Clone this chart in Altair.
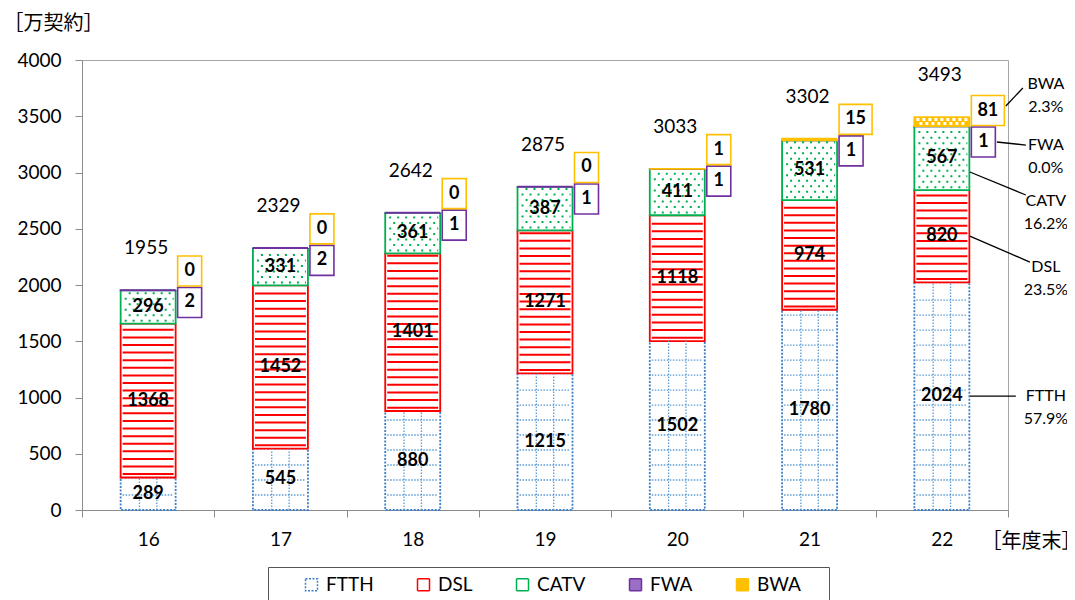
import altair as alt
import pandas as pd

# ---------------- data ----------------
years = ["16", "17", "18", "19", "20", "21", "22"]
series_names = ["FTTH", "DSL", "CATV", "FWA", "BWA"]
ftth = [289, 545, 880, 1215, 1502, 1780, 2024]
dsl = [1368, 1452, 1401, 1271, 1118, 974, 820]
catv = [296, 331, 361, 387, 411, 531, 567]
fwa = [2, 2, 1, 1, 1, 1, 1]
bwa = [0, 0, 0, 0, 1, 15, 81]
totals = [1955, 2329, 2642, 2875, 3033, 3302, 3493]
y_ticks = [0, 500, 1000, 1500, 2000, 2500, 3000, 3500, 4000]

# ---------------- style / layout ----------------
FONT = "Lato, 'Noto Sans CJK JP', sans-serif"
CJK = "'Noto Sans CJK JP', sans-serif"
GRAY = "#8c8c8c"
BLUE_LINE = "#3d7fc8"
BLUE_DOT = "#5b9bd5"
RED = "#ff0000"
GREEN = "#00b050"
PURPLE = "#7030a0"
ORANGE = "#ffc000"
stroke_colors = [BLUE_LINE, RED, GREEN, PURPLE, ORANGE]
fill_colors = ["#ffffff", "#ffffff", "#ffffff", "#9b6fc6", ORANGE]
dash_range = [[2, 1.5], [1, 0], [1, 0], [1, 0], [1, 0]]
BAR_W = 55
HALF_IN = 25.5  # inner half width for pattern lines
PAD_TAIL = " " * 4 + "\u200b"   # widens the last legend entry (legend frame)

values = {"FTTH": ftth, "DSL": dsl, "CATV": catv, "FWA": fwa, "BWA": bwa}

# stacked segments
rows = []
for i, yr in enumerate(years):
    acc = 0
    for k, s in enumerate(series_names):
        v = values[s][i]
        rows.append(dict(year=yr, series=s, value=v, start=acc, end=acc + v,
                         mid=acc + v / 2, order=k, label=str(v)))
        acc += v
seg = pd.DataFrame(rows)


def rng(s, i):
    r = seg[(seg.year == years[i]) & (seg.series == s)].iloc[0]
    return float(r.start), float(r.end)


# pattern decoration rows (derived from the segment extents)
ft_rows, dsl_rows, catv_rows, bwa_rows = [], [], [], []
for i, yr in enumerate(years):
    s0, e0 = rng("FTTH", i)
    y = s0 + 133.3
    while y < e0 - 40:
        ft_rows.append(dict(year=yr, y=y))
        y += 133.3
    s0, e0 = rng("DSL", i)
    y = s0 + 30
    while y < e0 - 15:
        dsl_rows.append(dict(year=yr, y=y))
        y += 67.5
    s0, e0 = rng("CATV", i)
    y = s0 + 25
    k = 0
    while y < e0 - 15:
        catv_rows.append(dict(year=yr, y=y, par=k % 2))
        y += 49
        k += 1
    s0, e0 = rng("BWA", i)
    if e0 - s0 >= 30:
        bwa_rows.append(dict(year=yr, y=s0 + (e0 - s0) * 0.72, par=0))
        bwa_rows.append(dict(year=yr, y=s0 + (e0 - s0) * 0.30, par=1))

ft_df = pd.DataFrame(ft_rows)
dsl_df = pd.DataFrame(dsl_rows)
catv_df = pd.DataFrame(catv_rows)
bwa_df = pd.DataFrame(bwa_rows)

# ---------------- encodings ----------------
X = alt.X("year:N",
          scale=alt.Scale(domain=years, paddingInner=0, paddingOuter=0),
          axis=alt.Axis(title="［年度末］", labelAngle=0, tickBand="extent", tickSize=7,
                        tickColor=GRAY, domainColor=GRAY, labelFontSize=19, labelFont=FONT,
                        labelPadding=13, labelColor="#000", titleFont=CJK, titleFontSize=20,
                        titleFontWeight="normal", titleX=899, titleY=31, titleAlign="left",
                        titleBaseline="middle", titleColor="#000", grid=False))


def Y(field):
    return alt.Y(f"{field}:Q", scale=alt.Scale(domain=[0, 4000], nice=False, zero=True),
                 axis=alt.Axis(values=y_ticks, format="d", grid=False, tickSize=7, tickColor=GRAY,
                               domainColor=GRAY, labelFontSize=19, labelFont=FONT,
                               labelPadding=14, labelColor="#000", title="［万契約］",
                               titleAngle=0, titleX=-79, titleY=-37, titleAlign="left",
                               titleBaseline="middle", titleFont=CJK, titleFontSize=20,
                               titleFontWeight="normal", titleColor="#000"))


legend = alt.Legend(title=" ", orient="none", legendX=186, legendY=507,
                    direction="horizontal", symbolType="square", symbolSize=144,
                    symbolStrokeWidth=1.5, labelFontSize=19, labelFont=FONT,
                    labelColor="#000", columnPadding=40, padding=8, strokeColor="#555",
                    titleOrient="left", titlePadding=26, titleFontSize=19, labelOffset=5,
                    labelExpr="datum.label == 'BWA' ? 'BWA" + PAD_TAIL + "' : datum.label")

bar_seg = seg[seg.value > 0]
bars = alt.Chart(bar_seg).mark_bar(width=BAR_W, strokeWidth=1.8).encode(
    x=X, y=Y("start"), y2=alt.Y2("end"),
    fill=alt.Fill("series:N", scale=alt.Scale(domain=series_names, range=fill_colors), legend=legend),
    stroke=alt.Stroke("series:N", scale=alt.Scale(domain=series_names, range=stroke_colors), legend=legend),
    strokeDash=alt.StrokeDash("series:N", scale=alt.Scale(domain=series_names, range=dash_range), legend=legend),
    order=alt.Order("order:Q"),
)

ftth_seg = seg[seg.series == "FTTH"]
layers = [bars]
for off in (-8.7, 8.7):
    layers.append(alt.Chart(ftth_seg).mark_rule(xOffset=off, strokeDash=[1.5, 1.5], color=BLUE_DOT,
                                                 strokeWidth=1.3).encode(
        x=X, y=Y("start"), y2=alt.Y2("end")))

layers.append(alt.Chart(ft_df).mark_rule(xOffset=-HALF_IN, x2Offset=HALF_IN, strokeDash=[1.5, 1.5],
                                         color=BLUE_DOT, strokeWidth=1.3).encode(
    x=X, x2=alt.X2("year"), y=Y("y")))

layers.append(alt.Chart(dsl_df).mark_rule(xOffset=-HALF_IN, x2Offset=HALF_IN, color=RED,
                                          strokeWidth=2).encode(
    x=X, x2=alt.X2("year"), y=Y("y")))

for par in (0, 1):
    sub = catv_df[catv_df.par == par]
    layers.append(alt.Chart(sub).mark_rule(xOffset=-HALF_IN + 2, x2Offset=HALF_IN, color=GREEN,
                                           strokeWidth=2, strokeDash=[2, 6],
                                           strokeDashOffset=4 * par).encode(
        x=X, x2=alt.X2("year"), y=Y("y")))

for par in (0, 1):
    sub = bwa_df[bwa_df.par == par]
    if len(sub):
        layers.append(alt.Chart(sub).mark_rule(xOffset=-HALF_IN, x2Offset=HALF_IN, color="#ffffff",
                                               strokeWidth=3, strokeDash=[3, 3],
                                               strokeDashOffset=3 * par).encode(
            x=X, x2=alt.X2("year"), y=Y("y")))

# segment value labels
lab = seg[seg.series.isin(["FTTH", "DSL", "CATV"])]
layers.append(alt.Chart(lab).mark_text(font=FONT, fontSize=18, fontWeight="bold", color="#000",
                                       baseline="middle").encode(
    x=X, y=Y("mid"), text="label:N"))

# totals
tot_df = pd.DataFrame({"year": years, "total": totals, "label": [str(t) for t in totals]})
layers.append(alt.Chart(tot_df).mark_text(font=FONT, fontSize=19, color="#000", dy=-42, dx=-2,
                                          baseline="middle").encode(
    x=X, y=Y("total"), text="label:N"))

# FWA / BWA boxed labels
box_rows = []
for i, yr in enumerate(years):
    shift = -112 if bwa[i] >= 50 else 0
    box_rows.append(dict(year=yr, series="FWA", label=str(fwa[i]), y=totals[i] - 110 + shift,
                         wide=len(str(fwa[i])) > 1))
    box_rows.append(dict(year=yr, series="BWA", label=str(bwa[i]), y=totals[i] + 170 + shift,
                         wide=len(str(bwa[i])) > 1))
box_df = pd.DataFrame(box_rows)
PATH_N = "M-0.8,-1H0.8V1H-0.8Z"
PATH_W = "M-1.1,-1H1.1V1H-1.1Z"
for s, col in (("FWA", PURPLE), ("BWA", ORANGE)):
    for wide in (False, True):
        sub = box_df[(box_df.series == s) & (box_df.wide == wide)]
        if not len(sub):
            continue
        off = 46 if wide else 41.5
        layers.append(alt.Chart(sub).mark_point(shape=PATH_W if wide else PATH_N, size=900, filled=True,
                                                fill="#ffffff", stroke=col, strokeWidth=1.6, opacity=1,
                                                xOffset=off).encode(x=X, y=Y("y")))
        layers.append(alt.Chart(sub).mark_text(font=FONT, fontSize=18, fontWeight="bold", color="#000",
                                               xOffset=off, baseline="middle").encode(
            x=X, y=Y("y"), text="label:N"))

# share annotations for the latest year
last = len(years) - 1
ann_y = {"BWA": 3787, "FWA": 3244, "CATV": 2747, "DSL": 2160, "FTTH": 1013}
ann_rows = []
for s in series_names:
    pct = values[s][last] / totals[last] * 100
    ann_rows.append(dict(year=years[last], y=ann_y[s], label=f"{s}\n{pct:.1f}%"))
ann_df = pd.DataFrame(ann_rows)
layers.append(alt.Chart(ann_df).mark_text(font=FONT, fontSize=16, color="#000", xOffset=104,
                                          lineBreak="\n", lineHeight=23, baseline="middle").encode(
    x=X, y=Y("y"), text="label:N"))

# leader lines
fwa_box_y = float(box_df[(box_df.series == "FWA") & (box_df.year == years[last])].y.iloc[0])
bwa_box_y = float(box_df[(box_df.series == "BWA") & (box_df.year == years[last])].y.iloc[0])
leaders = [
    (28, 74, sum(rng("FTTH", last)) / 2, 1013),
    (28, 88, sum(rng("DSL", last)) / 2, 2204),
    (28, 84, sum(rng("CATV", last)) / 2 - 123, 2800),
    (55, 84, fwa_box_y, 3244),
    (64, 81, bwa_box_y + 40, 3751),
]
for x0, x1, y0, y1 in leaders:
    d = pd.DataFrame([dict(year=years[last], y0=y0, y1=y1)])
    layers.append(alt.Chart(d).mark_rule(color="#000", strokeWidth=1.3, xOffset=x0, x2Offset=x1).encode(
        x=X, x2=alt.X2("year"), y=Y("y0"), y2=alt.Y2("y1")))

chart = alt.layer(*layers).properties(
    width=926, height=450,
    autosize=alt.AutoSizeParams(type="none"),
    padding={"left": 74, "top": 52, "right": 59, "bottom": 100},
    background="#ffffff",
).configure_view(stroke="#a6a6a6", strokeWidth=1)

chart.save("out.html", embed_options={"renderer": "svg", "actions": False})
